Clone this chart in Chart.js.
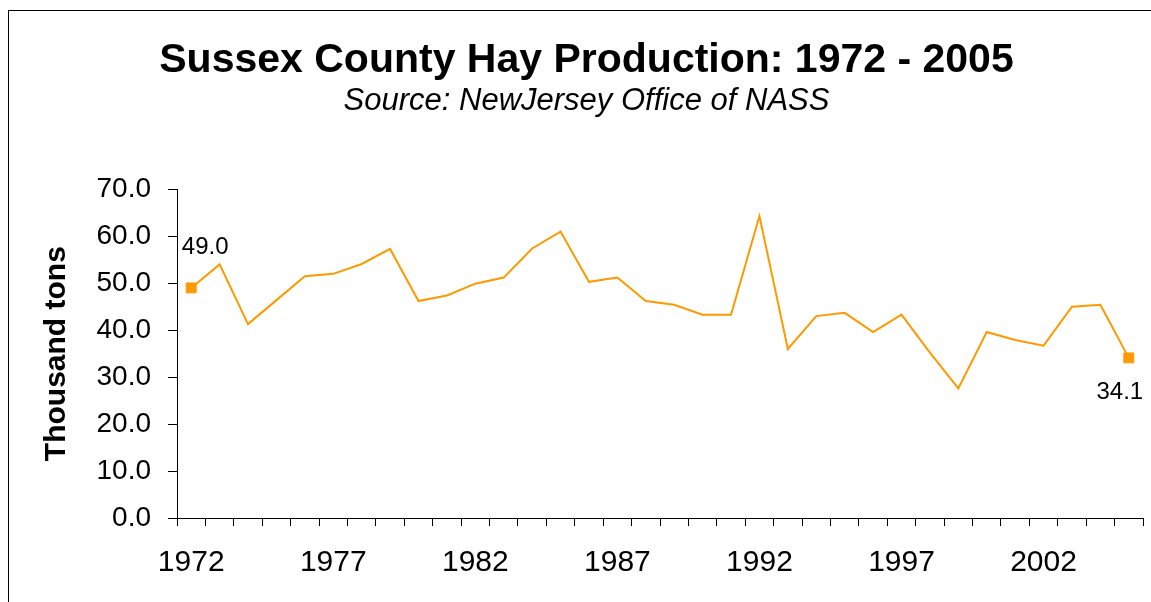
<!DOCTYPE html>
<html>
<head>
<meta charset="utf-8">
<script src="https://cdn.jsdelivr.net/npm/chart.js@4/dist/chart.umd.min.js"></script>
<style>
  html, body { margin: 0; padding: 0; background: #fff; overflow: hidden; }
  #wrap { position: relative; width: 1151px; height: 602px; }
</style>
</head>
<body>
<div id="wrap"><canvas id="c" width="1151" height="602"></canvas></div>
<script>
// ---- data ----
const years = [1972,1973,1974,1975,1976,1977,1978,1979,1980,1981,
               1982,1983,1984,1985,1986,1987,1988,1989,1990,1991,
               1992,1993,1994,1995,1996,1997,1998,1999,2000,2001,
               2002,2003,2004,2005];
const production = [49.0,54.0,41.3,46.4,51.5,52.0,54.1,57.3,46.2,47.4,
                    49.9,51.2,57.4,61.0,50.3,51.2,46.2,45.4,43.3,43.3,
                    64.3,36.0,43.0,43.7,39.6,43.3,35.2,27.6,39.6,37.9,
                    36.7,45.0,45.4,34.1];
const xTickLabels = ['1972','1977','1982','1987','1992','1997','2002'];
const yTicks = [0,10,20,30,40,50,60,70];
const titleText = 'Sussex County Hay Production: 1972 - 2005';
const subtitleText = 'Source: NewJersey Office of NASS';
const yTitle = 'Thousand tons';
const labelledIdx = [0, years.length - 1];

const FONT = '"Liberation Sans", Arial, sans-serif';
const ORANGE = '#FF9900';

const labelPlugin = {
  id: 'endLabels',
  afterDatasetsDraw(chart) {
    const ctx = chart.ctx;
    const meta = chart.getDatasetMeta(0);
    ctx.save();
    ctx.font = '24px ' + FONT;
    ctx.fillStyle = '#000';
    ctx.textAlign = 'center';
    ctx.textBaseline = 'alphabetic';
    labelledIdx.forEach(i => {
      const p = meta.data[i];
      const txt = production[i].toFixed(1);
      if (i === 0) ctx.fillText(txt, p.x + 14, p.y - 34);
      else ctx.fillText(txt, p.x - 9, p.y + 41);
    });
    ctx.restore();
  },
  afterDraw(chart) {
    const ctx = chart.ctx;
    ctx.save();
    ctx.strokeStyle = '#000';
    ctx.lineWidth = 1;
    ctx.strokeRect(8.5, 10.5, 3000, 3000);
    ctx.restore();
  }
};

new Chart(document.getElementById('c'), {
  type: 'line',
  data: {
    labels: years.map(String),
    datasets: [{
      data: production,
      borderColor: ORANGE,
      backgroundColor: ORANGE,
      borderWidth: 2,
      tension: 0,
      pointStyle: 'rect',
      pointRadius: years.map((_, i) => labelledIdx.includes(i) ? 7 : 0),
      pointBorderWidth: 1,
      pointBorderColor: ORANGE,
      pointBackgroundColor: ORANGE,
      pointHoverRadius: 0
    }]
  },
  options: {
    responsive: false,
    animation: false,
    events: [],
    layout: { padding: { left: 28, right: 6, top: 0, bottom: 0 } },
    plugins: {
      legend: { display: false },
      tooltip: { enabled: false },
      title: {
        display: true,
        text: titleText,
        color: '#000',
        font: { family: FONT, size: 41, weight: 'bold', lineHeight: 1.1 },
        padding: { top: 38, bottom: 0 }
      },
      subtitle: {
        display: true,
        text: subtitleText,
        color: '#000',
        font: { family: FONT, size: 31, style: 'italic', lineHeight: 1.2 },
        padding: { top: 0, bottom: 69 }
      }
    },
    scales: {
      x: {
        type: 'category',
        offset: true,
        afterFit(scale) { scale.height = 84; },
        grid: {
          offset: true,
          drawOnChartArea: false,
          drawTicks: true,
          tickLength: 8,
          color: '#000',
          lineWidth: 1
        },
        border: { display: true, color: '#000', width: 1 },
        ticks: {
          autoSkip: false,
          maxRotation: 0,
          color: '#000',
          padding: 19,
          font: { family: FONT, size: 30 },
          callback(value) {
            const lbl = this.getLabelForValue(value);
            return xTickLabels.includes(lbl) ? lbl : '';
          }
        }
      },
      y: {
        min: 0,
        max: 70,
        afterFit(scale) { scale.width = 149; },
        afterBuildTicks(scale) { scale.ticks = yTicks.map(v => ({ value: v })); },
        grid: {
          drawOnChartArea: false,
          drawTicks: true,
          tickLength: 9,
          color: '#000',
          lineWidth: 1
        },
        border: { display: true, color: '#000', width: 1 },
        ticks: {
          color: '#000',
          padding: 17,
          font: { family: FONT, size: 28 },
          callback(v) { return Number(v).toFixed(1); }
        },
        title: {
          display: true,
          text: yTitle,
          color: '#000',
          font: { family: FONT, size: 30, weight: 'bold', lineHeight: 1.2 },
          padding: { top: 11, bottom: 0 }
        }
      }
    }
  },
  plugins: [labelPlugin]
});
</script>
</body>
</html>
